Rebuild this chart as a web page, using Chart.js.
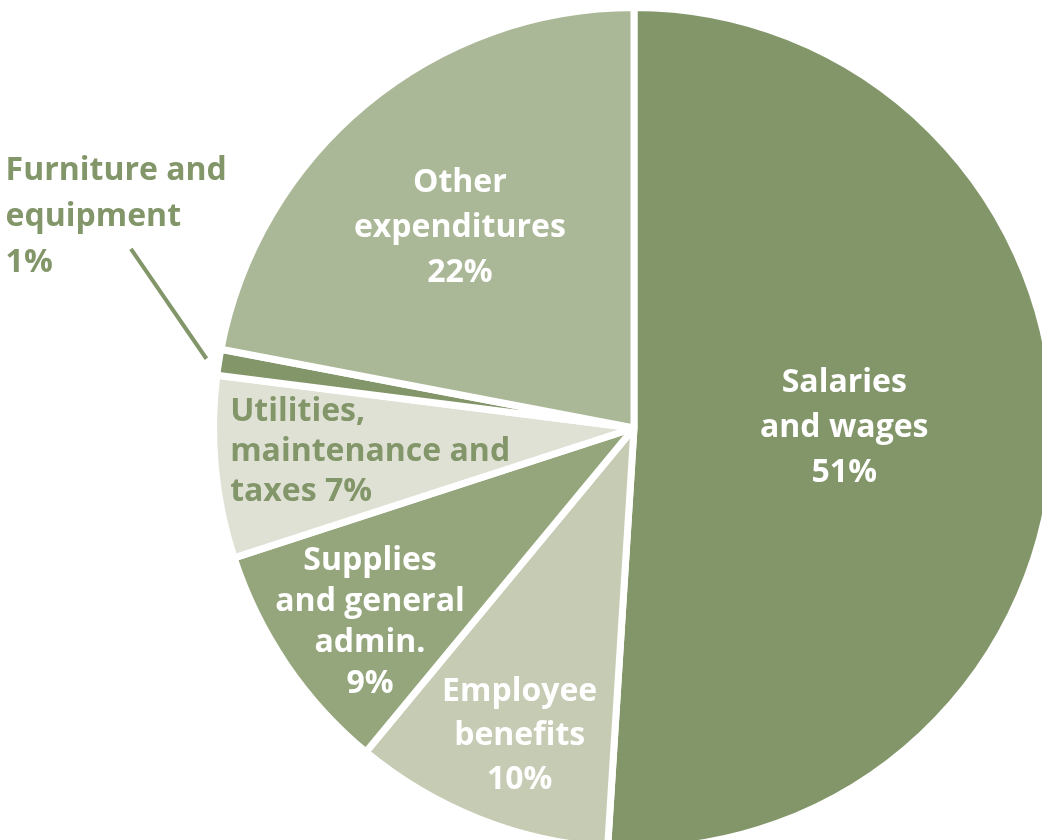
<!DOCTYPE html>
<html>
<head>
<meta charset="utf-8">
<script src="https://cdn.jsdelivr.net/npm/chart.js@4/dist/chart.umd.min.js"></script>
<style>
  html, body { margin: 0; padding: 0; background: #ffffff; overflow: hidden; }
  #wrap { position: absolute; left: 0; top: 0; }
</style>
</head>
<body>
<div id="wrap"><canvas id="pie" width="1070" height="870"></canvas></div>
<script>
  "use strict";

  // data, clockwise from 12 o'clock
  const categories = [
    "Salaries and wages",
    "Employee benefits",
    "Supplies and general admin.",
    "Utilities, maintenance and taxes",
    "Furniture and equipment",
    "Other expenditures"
  ];
  const shares = [51, 10, 9, 7, 1, 22];
  const labelLines = [
    ["Salaries", "and wages", "51%"],
    ["Employee", "benefits", "10%"],
    ["Supplies", "and general", "admin.", "9%"],
    ["Utilities,", "maintenance and", "taxes 7%"],
    ["Furniture and", "equipment", "1%"],
    ["Other", "expenditures", "22%"]
  ];

  const SLICE_COLORS = ["#82966A", "#C6CBB4", "#95A67D", "#E0E1D5", "#82966A", "#ABB897"];
  const TEXT_GREEN = "#82966A";

  // label placement: radius as fraction of R, angle shift (deg) from slice middle
  const LABEL_STYLE = [
    { r: 0.50, da: -1.8, color: "#ffffff", align: "center", lh: 45 },
    { r: 0.78, da: -1.2, color: "#ffffff", align: "center", lh: 44 },
    { r: 0.78, da: -2.2, color: "#ffffff", align: "center", lh: 41 },
    { r: 0.63, da: 0.3, color: TEXT_GREEN, align: "left", lh: 40 },
    { r: 1.33, da: 13.2, color: TEXT_GREEN, align: "left", lh: 46,
      leader: { from: 1.03, fromDa: 0.2, to: 1.27, toDa: 10.6 } },
    { r: 0.63, da: -1.5, color: "#ffffff", align: "center", lh: 45 }
  ];

  const FONT = "bold 32px 'Open Sans', sans-serif";

  function polar(arc, frac, deg) {
    const mid = (arc.startAngle + arc.endAngle) / 2 + deg * Math.PI / 180;
    const r = arc.outerRadius * frac;
    return { x: arc.x + r * Math.cos(mid), y: arc.y + r * Math.sin(mid) };
  }

  const sliceLabels = {
    id: "sliceLabels",
    afterDatasetsDraw(chart) {
      const ctx = chart.ctx;
      const arcs = chart.getDatasetMeta(0).data;
      ctx.save();
      ctx.font = FONT;
      ctx.textBaseline = "middle";
      arcs.forEach((arc, i) => {
        const st = LABEL_STYLE[i];
        const lines = labelLines[i];
        if (st.leader) {
          const a = polar(arc, st.leader.from, st.leader.fromDa);
          const b = polar(arc, st.leader.to, st.leader.toDa);
          ctx.strokeStyle = st.color;
          ctx.lineWidth = 4;
          ctx.beginPath();
          ctx.moveTo(a.x, a.y);
          ctx.lineTo(b.x, b.y);
          ctx.stroke();
        }
        const p = polar(arc, st.r, st.da);
        const maxW = Math.max(...lines.map((t) => ctx.measureText(t).width));
        const top = p.y - (lines.length - 1) * st.lh / 2;
        ctx.fillStyle = st.color;
        ctx.textAlign = st.align;
        const x = st.align === "left" ? p.x - maxW / 2 : p.x;
        lines.forEach((t, k) => ctx.fillText(t, x, top + k * st.lh));
      });
      ctx.restore();
    }
  };

  new Chart(document.getElementById("pie"), {
    type: "pie",
    data: {
      labels: categories,
      datasets: [{
        data: shares,
        backgroundColor: SLICE_COLORS,
        borderColor: "#ffffff",
        borderWidth: 7
      }]
    },
    options: {
      responsive: false,
      animation: false,
      layout: { padding: { left: 210, top: 4, right: 12, bottom: 18 } },
      plugins: {
        legend: { display: false },
        tooltip: { enabled: false }
      }
    },
    plugins: [sliceLabels]
  });
</script>
</body>
</html>
